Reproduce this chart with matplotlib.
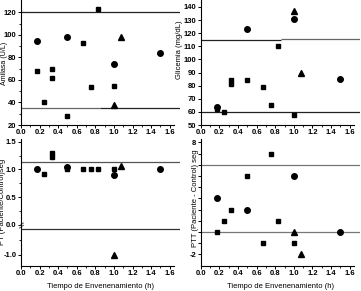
import numpy as np
import matplotlib
matplotlib.use('Agg')
import matplotlib.pyplot as plt
from matplotlib.path import Path

plt.rcParams['font.family'] = ['Liberation Sans', 'DejaVu Sans']
plt.rcParams['font.weight'] = 'bold'

# Amilasa (U/L)
ami_sq_x = [0.17, 0.33, 0.33, 0.25, 0.5, 0.67, 0.75, 0.83, 1.0]
ami_sq_y = [68, 70, 62, 40, 28, 93, 54, 123, 55]
ami_ci_x = [0.17, 0.5, 1.0, 1.5]
ami_ci_y = [95, 98, 74, 84]
ami_tr_x = [1.0, 1.08]
ami_tr_y = [38, 98]
ami_lines = [120, 35, 35.4]

# Glicemia (mg/dL)
gli_sq_x = [0.17, 0.25, 0.33, 0.33, 0.5, 0.67, 0.75, 0.83, 1.0]
gli_sq_y = [62, 60, 84, 81, 84, 79, 65, 110, 58]
gli_ci_x = [0.17, 0.5, 1.0, 1.5]
gli_ci_y = [64, 123, 131, 85]
gli_tr_x = [1.0, 1.08]
gli_tr_y = [137, 90]
gli_lines = [114.5, 115.2, 60]

# PT (Paciente/Control)
pt_sq_x = [0.25, 0.33, 0.33, 0.5, 0.67, 0.75, 0.83, 1.0]
pt_sq_y = [0.91, 1.30, 1.23, 1.0, 1.0, 1.0, 1.0, 1.0]
pt_ci_x = [0.17, 0.5, 1.0, 1.5]
pt_ci_y = [1.0, 1.05, 0.9, 1.0]
pt_tr_x = [1.08, 1.0]
pt_tr_y = [1.07, -1.0]
pt_lines = [1.14, -0.15]

# PTT (Paciente - Control)
ptt_sq_x = [0.17, 0.25, 0.33, 0.5, 0.67, 0.75, 0.83, 1.0]
ptt_sq_y = [0, 1, 2, 5, -1, 7, 1, -1]
ptt_ci_x = [0.17, 0.5, 1.0, 1.5]
ptt_ci_y = [3, 2, 5, 0]
ptt_tr_x = [1.0, 1.08]
ptt_tr_y = [0, -2]
ptt_lines = [6, 0]

x_ticks = [0.0, 0.2, 0.4, 0.6, 0.8, 1.0, 1.2, 1.4, 1.6]
ptt_ticks = [-2, -1, 0, 1, 2, 3, 4, 5, 6, 7, 8]
ptt_ticklabels = ['-2', '', '', '', '', '', '', '', '', '', '8']

W, H = 361, 291
fig = plt.figure(figsize=(W / 100, H / 100), dpi=100)


def add_panel(left, top, right, bottom):
    ax = fig.add_axes([left / W, 1 - bottom / H, (right - left) / W, (bottom - top) / H])
    ax.patch.set_alpha(0)
    for s in ['top', 'right']:
        ax.spines[s].set_visible(False)
    for s in ['left', 'bottom']:
        ax.spines[s].set_linewidth(0.8)
    ax.set_xlim(0, 1.71)
    ax.spines['bottom'].set_bounds(0, 1.65)
    ax.set_xticks(x_ticks)
    ax.set_xticklabels([f'{t:.1f}' for t in x_ticks])
    ax.set_xticks(np.arange(0.1, 1.61, 0.2), minor=True)
    ax.tick_params(which='major', length=2.2, width=0.7, pad=1, labelsize=5.5)
    ax.tick_params(which='minor', length=1.3, width=0.6)
    return ax


def points(ax, sx, sy, cx, cy, tx, ty):
    ax.plot(sx, sy, 's', color='black', ms=2.8, clip_on=False)
    ax.plot(cx, cy, 'o', color='black', ms=4, clip_on=False)
    ax.plot(tx, ty, '^', color='black', ms=4.2, clip_on=False)


# Amilasa
ax1 = add_panel(21, 0, 180, 125)
ax1.set_ylim(20, 131)
ax1.set_yticks([20, 40, 60, 80, 100, 120])
ax1.set_yticks([30, 50, 70, 90, 110], minor=True)
ax1.hlines(ami_lines[0], 0, 1.71, color='#222222', lw=0.9)
ax1.hlines(ami_lines[1], 0, 0.85, color='#666666', lw=0.9)
ax1.hlines(ami_lines[2], 0.85, 1.71, color='#222222', lw=0.9)
points(ax1, ami_sq_x, ami_sq_y, ami_ci_x, ami_ci_y, ami_tr_x, ami_tr_y)
ax1.set_ylabel('Amilasa (U/L)', fontsize=5.1, va='center')
ax1.yaxis.set_label_coords(-0.105, 0.49)

# Glicemia
ax2 = add_panel(200.7, 0, 360, 125)
ax2.set_ylim(50, 145.3)
ax2.set_yticks(np.arange(50, 141, 10))
ax2.hlines(gli_lines[0], 0, 0.86, color='#222222', lw=0.9)
ax2.hlines(gli_lines[1], 0.86, 1.71, color='#666666', lw=0.9)
ax2.hlines(gli_lines[2], 0, 1.71, color='#222222', lw=0.9)
points(ax2, gli_sq_x, gli_sq_y, gli_ci_x, gli_ci_y, gli_tr_x, gli_tr_y)
ax2.set_ylabel('Glicemia (mg/dL)', fontsize=5.5, va='center')
ax2.yaxis.set_label_coords(-0.135, 0.6)


# PT with broken axis below zero
def fwd(y):
    y = np.asarray(y, dtype=float)
    return np.where(y >= 0, y, y * 0.545)


def inv(t):
    t = np.asarray(t, dtype=float)
    return np.where(t >= 0, t, t / 0.545)


ax3 = add_panel(21, 139, 180, 265.7)
ax3.set_yscale('function', functions=(fwd, inv))
ax3.set_ylim(-1.36, 1.55)
ax3.set_yticks([-1.0, 0.0, 0.5, 1.0, 1.5])
ax3.set_yticklabels(['-1.0', '0.0', '0.5', '1.0', '1.5'])
ax3.set_yticks([-0.5, 0.25, 0.75, 1.25], minor=True)
ax3.hlines(pt_lines[0], 0, 1.71, color='#555555', lw=0.9)
ax3.hlines(pt_lines[1], 0, 1.71, color='#333333', lw=0.9)
brk = Path([(-1, -1.2), (1, 0.2), (-1, -0.2), (1, 1.2)],
           [Path.MOVETO, Path.LINETO, Path.MOVETO, Path.LINETO])
ax3.plot([0], [-0.02], marker=brk, ms=4, mec='#444444', mew=0.6, clip_on=False)
points(ax3, pt_sq_x, pt_sq_y, pt_ci_x, pt_ci_y, pt_tr_x, pt_tr_y)
ax3.set_ylabel('PT (Paciente/Control)seg', fontsize=5.5, va='center')
ax3.yaxis.set_label_coords(-0.115, 0.5)
ax3.set_xlabel('Tiempo de Envenenamiento (h)', fontsize=5.5, fontweight='normal', labelpad=4)

# PTT
ax4 = add_panel(200.7, 139, 360, 265.7)
ax4.set_ylim(-3, 8.3)
ax4.set_yticks(ptt_ticks)
ax4.set_yticklabels(ptt_ticklabels)
ax4.hlines(ptt_lines[0], 0, 1.71, color='#777777', lw=0.9)
ax4.hlines(ptt_lines[1], 0, 1.71, color='#777777', lw=0.9)
points(ax4, ptt_sq_x, ptt_sq_y, ptt_ci_x, ptt_ci_y, ptt_tr_x, ptt_tr_y)
ax4.set_ylabel('PTT (Paciente - Control) seg', fontsize=5.5, va='center')
ax4.yaxis.set_label_coords(-0.03, 0.53)
ax4.set_xlabel('Tiempo de Envenenamiento (h)', fontsize=5.5, labelpad=4)

fig.savefig('out.png', dpi=100)
